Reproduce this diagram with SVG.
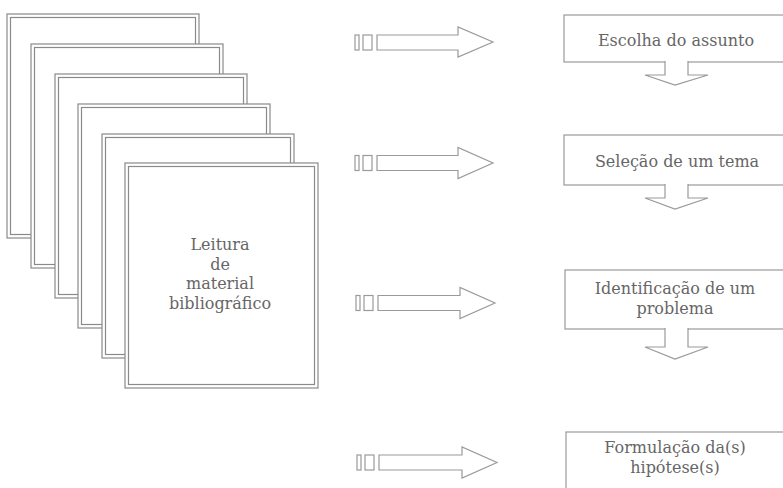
<svg xmlns="http://www.w3.org/2000/svg" width="783" height="488" viewBox="0 0 783 488">
<style>
.pg rect{fill:#fff;stroke:#8a8a8a;stroke-width:1.2}
.pg rect.in{fill:none}
.ln{fill:#fff;stroke:#9a9a9a;stroke-width:1.2}
.t{font-family:"DejaVu Serif","Liberation Serif",serif;font-size:16px;fill:#666;stroke:none;text-anchor:middle}
</style>
<rect width="783" height="488" fill="#fff"/>
<g id="pages" class="pg">
<g id="page1"><rect x="7" y="14" width="192" height="224"/><rect class="in" x="10.5" y="17.5" width="185" height="217"/></g>
<g id="page2"><rect x="31" y="44" width="192" height="224"/><rect class="in" x="34.5" y="47.5" width="185" height="217"/></g>
<g id="page3"><rect x="55" y="74" width="192" height="224"/><rect class="in" x="58.5" y="77.5" width="185" height="217"/></g>
<g id="page4"><rect x="78" y="104" width="192" height="224"/><rect class="in" x="81.5" y="107.5" width="185" height="217"/></g>
<g id="page5"><rect x="102" y="134" width="192" height="224"/><rect class="in" x="105.5" y="137.5" width="185" height="217"/></g>
<g id="page6"><rect x="125" y="163" width="193" height="225"/><rect class="in" x="128.5" y="166.5" width="186" height="218"/>
<text class="t" x="220" y="250">Leitura</text>
<text class="t" x="220" y="269.5">de</text>
<text class="t" x="220" y="289">material</text>
<text class="t" x="220" y="308.5">bibliográfico</text>
</g>
</g>
<g id="connectors" class="ln">
<g id="arrow1"><rect x="355" y="35" width="4" height="15"/><rect x="363" y="35" width="9" height="15"/><path d="M377,35 H458 V27 L493,42 L458,57 V50 H377 Z"/></g>
<g id="arrow2"><rect x="355" y="155.5" width="4" height="15"/><rect x="363" y="155.5" width="9" height="15"/><path d="M377,155.5 H458 V147.5 L493,163 L458,178.5 V170.5 H377 Z"/></g>
<g id="arrow3"><rect x="356" y="295.5" width="4" height="15"/><rect x="364" y="295.5" width="9" height="15"/><path d="M378,295.5 H460 V287.5 L495,303 L460,318.5 V310.5 H378 Z"/></g>
<g id="arrow4"><rect x="357" y="455" width="4" height="15"/><rect x="365" y="455" width="9" height="15"/><path d="M379,455 H462 V447 L497,462.5 L462,478 V470 H379 Z"/></g>
</g>
<g id="box1" class="ln"><rect x="564" y="15" width="230" height="47"/><text class="t" x="676" y="46">Escolha do assunto</text></g>
<g id="box2" class="ln"><rect x="564" y="135" width="230" height="50"/><text class="t" x="677" y="167">Seleção de um tema</text></g>
<g id="box3" class="ln"><rect x="565" y="270" width="230" height="59"/><text class="t" x="675" y="294">Identificação de um</text><text class="t" x="675" y="313.5">problema</text></g>
<g id="box4" class="ln"><rect x="566" y="432" width="230" height="70"/><text class="t" x="675" y="453">Formulação da(s)</text><text class="t" x="675" y="472.5">hipótese(s)</text></g>
<g id="down-arrows" class="ln">
<path d="M665,61 V75 H645 L675,85 L708,75 H688 V61"/>
<path d="M665,184 V198 H645 L675,209 L708,198 H688 V184"/>
<path d="M665,328 V347 H645 L675,359 L708,347 H688 V328"/>
</g>
</svg>
